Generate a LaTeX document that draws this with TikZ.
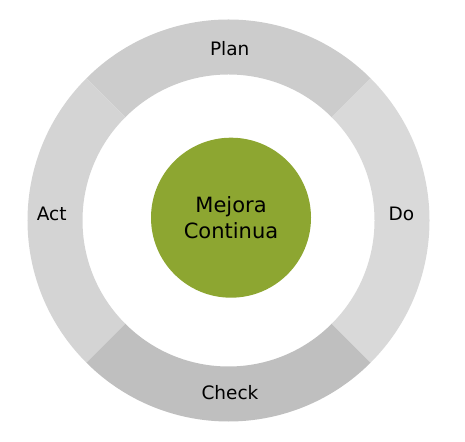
\documentclass[tikz,border=0pt]{standalone}
\usepackage{fontspec}
\setmainfont{DejaVu Sans}
\definecolor{planc}{HTML}{CCCCCC}
\definecolor{doc}{HTML}{D9D9D9}
\definecolor{checkc}{HTML}{BFBFBF}
\definecolor{actc}{HTML}{D4D4D4}
\definecolor{greenc}{HTML}{8DA631}
\tikzset{
  lbl/.style={font=\fontsize{18.5}{22}\selectfont, text=black, inner sep=0pt},
  ctr/.style={circle, fill=greenc, minimum size=160pt, inner sep=0pt, align=center, font=\fontsize{21}{26.3}\selectfont}
}
\newcommand{\sector}[3]{%
  \fill[#3] (#1:201pt) arc[start angle=#1, end angle=#2, radius=201pt] -- (#2:146pt) arc[start angle=#2, end angle=#1, radius=146pt] -- cycle;}
\begin{document}
\begin{tikzpicture}[x=1pt,y=1pt]
\useasboundingbox (0,0) rectangle (465,441);
\begin{scope}[shift={(228.5,220.5)}]
  \sector{45}{135}{planc}
  \sector{135}{225}{actc}
  \sector{225}{315}{checkc}
  \sector{-45}{45}{doc}
\end{scope}
\node[ctr] (center) at (231,223.3) {Mejora\\Continua};
\node[lbl] (plan) at (229.7,392.5) {Plan};
\node[lbl] (do) at (401.5,227) {Do};
\node[lbl] (act) at (51.7,227) {Act};
\node[lbl] (check) at (230,48) {Check};
\end{tikzpicture}
\end{document}
